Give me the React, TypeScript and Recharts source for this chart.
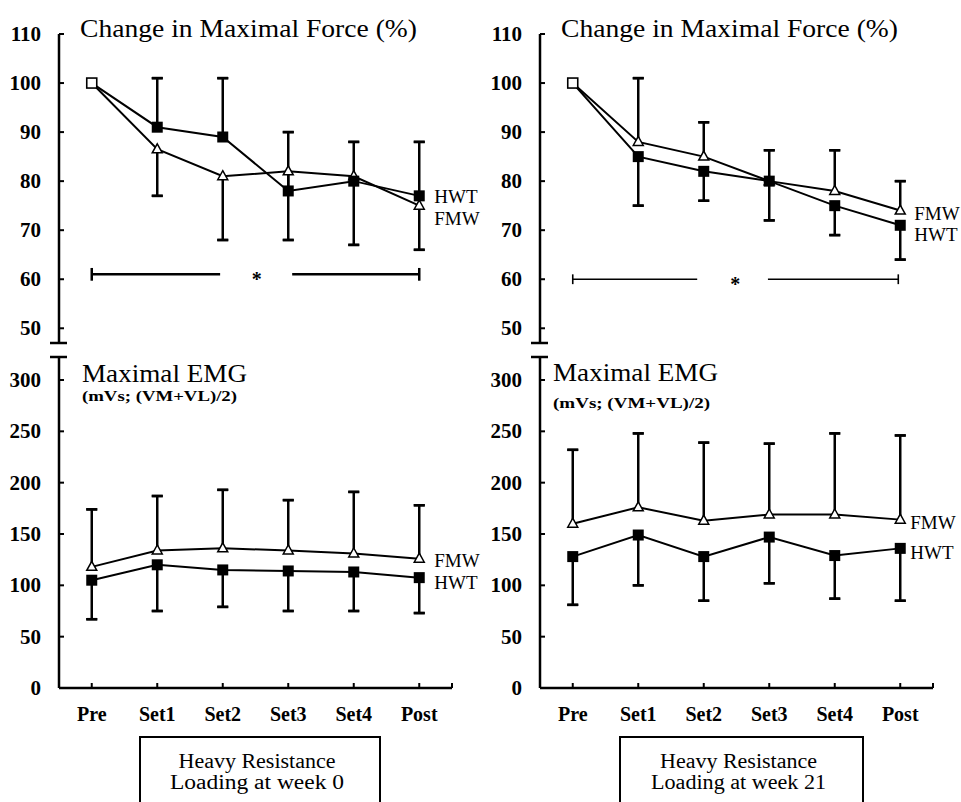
import React from 'react';
import { ComposedChart, Line, XAxis, YAxis, ErrorBar, ReferenceLine, ReferenceDot } from 'recharts';

const categories = ['Pre', 'Set1', 'Set2', 'Set3', 'Set4', 'Post'];

// maximal force, % of pre value
const forceHwtW0 = [100, 91, 89, 78, 80, 77];
const forceHwtW0Sd = [0, 10, 12, 12, 8, 11];
const forceFmwW0 = [100, 86.5, 81, 82, 81, 75];
const forceFmwW0Sd = [0, 9.5, 13, 14, 14, 9];

const forceHwtW21 = [100, 85, 82, 80, 75, 71];
const forceHwtW21Sd = [0, 10, 6, 8, 6, 7];
const forceFmwW21 = [100, 88, 85, 80, 78, 74];
const forceFmwW21Sd = [0, 13, 7, 6.3, 8.3, 6];

// maximal EMG, mVs ((VM+VL)/2)
const emgHwtW0 = [105, 120, 115, 114, 113, 107.5];
const emgHwtW0Sd = [38, 45, 36, 39, 38, 34.5];
const emgFmwW0 = [118, 134, 136, 134, 131, 126];
const emgFmwW0Sd = [56, 53, 57, 49, 60, 52];

const emgHwtW21 = [128, 149, 128, 147, 129, 136];
const emgHwtW21Sd = [47, 49, 43, 45, 42, 51];
const emgFmwW21 = [160, 176, 163, 169, 169, 164];
const emgFmwW21Sd = [72, 72, 76, 69, 79, 82];

const forceTicks = [50, 60, 70, 80, 90, 100, 110];
const emgTicks = [0, 50, 100, 150, 200, 250, 300];

const FORCE_MIN = 47; // broken axis end
const EMG_MAX = 322.4;

const FONT = "'Liberation Serif', 'Times New Roman', serif";

type Dir = 'up' | 'down';

// one row per time point; SD drawn on one side only
const buildRows = (
  hwt: number[], hwtSd: number[], hwtDir: Dir,
  fmw: number[], fmwSd: number[], fmwDir: Dir,
) =>
  categories.map((name, i) => {
    const hs = hwtDir === 'up' ? 1 : -1;
    const fs = fmwDir === 'up' ? 1 : -1;
    return {
      i,
      name,
      hwt: hwt[i],
      fmw: fmw[i],
      hwtErr: hwtSd[i] ? (hwtDir === 'up' ? [0, hwtSd[i]] : [hwtSd[i], 0]) : null,
      fmwErr: fmwSd[i] ? (fmwDir === 'up' ? [0, fmwSd[i]] : [fmwSd[i], 0]) : null,
      hwtEnd: hwt[i] + hs * hwtSd[i],
      fmwEnd: fmw[i] + fs * fmwSd[i],
      hwtCap: hwtSd[i] ? [0, 0] : null,
      fmwCap: fmwSd[i] ? [0, 0] : null,
    };
  });

const rowsForceW0 = buildRows(forceHwtW0, forceHwtW0Sd, 'up', forceFmwW0, forceFmwW0Sd, 'down');
const rowsForceW21 = buildRows(forceHwtW21, forceHwtW21Sd, 'down', forceFmwW21, forceFmwW21Sd, 'up');
const rowsEmgW0 = buildRows(emgHwtW0, emgHwtW0Sd, 'down', emgFmwW0, emgFmwW0Sd, 'up');
const rowsEmgW21 = buildRows(emgHwtW21, emgHwtW21Sd, 'down', emgFmwW21, emgFmwW21Sd, 'up');

const YTick = (props: any) => {
  const { x, y, payload, breakAt } = props;
  if (payload.value === breakAt) {
    return <line x1={x - 9} x2={x + 8} y1={y} y2={y} stroke="#000" strokeWidth={2.5} />;
  }
  return (
    <g>
      <line x1={x} x2={x + 5} y1={y} y2={y} stroke="#000" strokeWidth={2} />
      <text x={x - 18} y={y} dy={7} textAnchor="end" fontFamily={FONT} fontWeight="bold" fontSize={21} fill="#000">
        {payload.value}
      </text>
    </g>
  );
};

const XTick = (props: any) => {
  const { x, y, payload } = props;
  const label = categories[payload.value];
  return (
    <g>
      <line x1={x} x2={x} y1={y} y2={y - 5} stroke="#000" strokeWidth={2} />
      {label && (
        <text x={x} y={y + 33} textAnchor="middle" fontFamily={FONT} fontWeight="bold" fontSize={20} fill="#000">
          {label}
        </text>
      )}
    </g>
  );
};

const seriesLabel = (text: string, x: number, y: number) => (
  <text x={x} y={y} fontFamily={FONT} fontSize={19} fill="#000">{text}</text>
);

const squareDot = (openPre: boolean, name: string, dx: number, dy: number) => (p: any) => {
  const { cx, cy, index } = p;
  if (cx == null || cy == null) return <g key={`s${index}`} />;
  const last = index === categories.length - 1;
  if (openPre && index === 0) {
    return <rect key={`s${index}`} x={cx - 5} y={cy - 5} width={10} height={10} fill="#fff" stroke="#000" strokeWidth={1.6} />;
  }
  return (
    <g key={`s${index}`}>
      <rect x={cx - 5.5} y={cy - 5.5} width={11} height={11} fill="#000" />
      {last && seriesLabel(name, cx + dx, cy + dy)}
    </g>
  );
};

const triangleDot = (hidePre: boolean, name: string, dx: number, dy: number) => (p: any) => {
  const { cx, cy, index } = p;
  if (cx == null || cy == null || (hidePre && index === 0)) return <g key={`t${index}`} />;
  const last = index === categories.length - 1;
  return (
    <g key={`t${index}`}>
      <polygon
        points={`${cx},${cy - 5.5} ${cx + 5},${cy + 3.5} ${cx - 5},${cy + 3.5}`}
        fill="#fff"
        stroke="#000"
        strokeWidth={1.5}
      />
      {last && seriesLabel(name, cx + dx, cy + dy)}
    </g>
  );
};

type Sig = { y: number; from: number; to1: number; from2: number; to: number; star: number; cap: number; width: number };

type PanelProps = {
  rows: any[];
  left: number;
  top: number;
  width: number;
  height: number;
  margin: { top: number; right: number; bottom: number; left: number };
  domain: [number, number];
  ticks: number[];
  breakAt: number;
  showX: boolean;
  force: boolean;
  hwtLabel: [number, number];
  fmwLabel: [number, number];
  sig?: Sig;
};

const Panel = ({ rows, left, top, width, height, margin, domain, ticks, breakAt, showX, force, hwtLabel, fmwLabel, sig }: PanelProps) => (
  <div style={{ position: 'absolute', left, top }}>
    <ComposedChart width={width} height={height} data={rows} margin={margin}>
      <XAxis
        type="number"
        dataKey="i"
        domain={[-0.5, 5.5]}
        ticks={[0, 1, 2, 3, 4, 5, 5.5]}
        interval={0}
        hide={!showX}
        height={40}
        tickSize={0}
        tickMargin={0}
        tickLine={false}
        axisLine={{ stroke: '#000', strokeWidth: 2.5 }}
        tick={(p: any) => <XTick {...p} />}
      />
      <YAxis
        type="number"
        domain={domain}
        ticks={ticks}
        interval={0}
        width={59}
        tickSize={0}
        tickMargin={0}
        tickLine={false}
        axisLine={{ stroke: '#000', strokeWidth: 2.5 }}
        tick={(p: any) => <YTick {...p} breakAt={breakAt} />}
      />
      {sig && (
        <ReferenceLine segment={[{ x: sig.from, y: sig.y }, { x: sig.to1, y: sig.y }]} stroke="#000" strokeWidth={sig.width} />
      )}
      {sig && (
        <ReferenceLine segment={[{ x: sig.from2, y: sig.y }, { x: sig.to, y: sig.y }]} stroke="#000" strokeWidth={sig.width} />
      )}
      {sig && (
        <ReferenceLine segment={[{ x: sig.from, y: sig.y - sig.cap }, { x: sig.from, y: sig.y + sig.cap }]} stroke="#000" strokeWidth={sig.width} />
      )}
      {sig && (
        <ReferenceLine segment={[{ x: sig.to, y: sig.y - sig.cap }, { x: sig.to, y: sig.y + sig.cap }]} stroke="#000" strokeWidth={sig.width} />
      )}
      {sig && (
        <ReferenceDot
          x={sig.star}
          y={sig.y}
          r={1}
          shape={(p: any) => (
            <text x={p.cx} y={p.cy} dy={12} textAnchor="middle" fontFamily={FONT} fontWeight="bold" fontSize={20} fill="#000">
              *
            </text>
          )}
        />
      )}

      {/* caps at the far end of each SD bar */}
      <Line dataKey="fmwEnd" stroke="none" strokeWidth={0} dot={false} activeDot={false} isAnimationActive={false}>
        <ErrorBar dataKey="fmwCap" width={5.5} stroke="#000" strokeWidth={2.5} />
      </Line>
      <Line dataKey="hwtEnd" stroke="none" strokeWidth={0} dot={false} activeDot={false} isAnimationActive={false}>
        <ErrorBar dataKey="hwtCap" width={5.5} stroke="#000" strokeWidth={2.5} />
      </Line>

      <Line
        dataKey="fmw"
        stroke="#000"
        strokeWidth={2}
        dot={triangleDot(force, 'FMW', fmwLabel[0], fmwLabel[1])}
        activeDot={false}
        isAnimationActive={false}
      >
        <ErrorBar dataKey="fmwErr" width={0} stroke="#000" strokeWidth={2.5} />
      </Line>
      <Line
        dataKey="hwt"
        stroke="#000"
        strokeWidth={2}
        dot={squareDot(force, 'HWT', hwtLabel[0], hwtLabel[1])}
        activeDot={false}
        isAnimationActive={false}
      >
        <ErrorBar dataKey="hwtErr" width={0} stroke="#000" strokeWidth={2.5} />
      </Line>
    </ComposedChart>
  </div>
);

// left column charts are wider so the series names fit past the plot
const topMarginL = { top: 34, right: 48, bottom: 7, left: 0 };
const bottomMarginL = { top: 7, right: 48, bottom: 0, left: 0 };
const topMarginR = { top: 34, right: 28, bottom: 7, left: 0 };
const bottomMarginR = { top: 7, right: 28, bottom: 0, left: 0 };

const Box = ({ x, w, line2 }: { x: number; w: number; line2: string }) => (
  <g>
    <rect x={x} y={737} width={w} height={80} fill="none" stroke="#000" strokeWidth={2} />
    <text x={x + w / 2 - 3} y={768} textAnchor="middle" fontFamily={FONT} fontSize={20} textLength={157} lengthAdjust="spacingAndGlyphs">
      Heavy Resistance
    </text>
    <text x={x + w / 2 - 3} y={789} textAnchor="middle" fontFamily={FONT} fontSize={20} textLength={line2.length > 17 ? 175 : 174} lengthAdjust="spacingAndGlyphs">
      {line2}
    </text>
  </g>
);

export default function App() {
  return (
    <div style={{ position: 'absolute', left: 0, top: 0, width: 961, height: 802, background: '#fff', overflow: 'hidden' }}>
      <Panel
        rows={rowsForceW0}
        left={0}
        top={0}
        width={500}
        height={350}
        margin={topMarginL}
        domain={[FORCE_MIN, 110]}
        ticks={[FORCE_MIN, ...forceTicks]}
        breakAt={FORCE_MIN}
        showX={false}
        force
        hwtLabel={[15, 7]}
        fmwLabel={[15, 19]}
        sig={{ y: 61, from: 0, to1: 1.96, from2: 3.06, to: 5, star: 2.52, cap: 1.3, width: 2.5 }}
      />
      <Panel
        rows={rowsForceW21}
        left={481}
        top={0}
        width={480}
        height={350}
        margin={topMarginR}
        domain={[FORCE_MIN, 110]}
        ticks={[FORCE_MIN, ...forceTicks]}
        breakAt={FORCE_MIN}
        showX={false}
        force
        hwtLabel={[14, 16]}
        fmwLabel={[14, 9]}
        sig={{ y: 60, from: 0, to1: 1.9, from2: 2.98, to: 4.97, star: 2.48, cap: 1, width: 1.6 }}
      />
      <Panel
        rows={rowsEmgW0}
        left={0}
        top={350}
        width={500}
        height={378}
        margin={bottomMarginL}
        domain={[0, EMG_MAX]}
        ticks={[...emgTicks, EMG_MAX]}
        breakAt={EMG_MAX}
        showX
        force={false}
        hwtLabel={[15, 11]}
        fmwLabel={[15, 8]}
      />
      <Panel
        rows={rowsEmgW21}
        left={481}
        top={350}
        width={480}
        height={378}
        margin={bottomMarginR}
        domain={[0, EMG_MAX]}
        ticks={[...emgTicks, EMG_MAX]}
        breakAt={EMG_MAX}
        showX
        force={false}
        hwtLabel={[10, 11]}
        fmwLabel={[10, 9]}
      />

      <svg width={961} height={802} style={{ position: 'absolute', left: 0, top: 0, pointerEvents: 'none' }}>
        <text x={80} y={37} fontFamily={FONT} fontSize={26} textLength={337} lengthAdjust="spacingAndGlyphs">
          Change in Maximal Force (%)
        </text>
        <text x={561} y={37} fontFamily={FONT} fontSize={26} textLength={337} lengthAdjust="spacingAndGlyphs">
          Change in Maximal Force (%)
        </text>
        <text x={82} y={382} fontFamily={FONT} fontSize={26} textLength={165} lengthAdjust="spacingAndGlyphs">
          Maximal EMG
        </text>
        <text x={82} y={401} fontFamily={FONT} fontSize={14} fontWeight="bold" textLength={155} lengthAdjust="spacingAndGlyphs">
          (mVs; (VM+VL)/2)
        </text>
        <text x={553} y={381} fontFamily={FONT} fontSize={26} textLength={165} lengthAdjust="spacingAndGlyphs">
          Maximal EMG
        </text>
        <text x={553} y={408} fontFamily={FONT} fontSize={14} fontWeight="bold" textLength={157} lengthAdjust="spacingAndGlyphs">
          (mVs; (VM+VL)/2)
        </text>
        <Box x={140} w={240} line2="Loading at week 0" />
        <Box x={620} w={243} line2="Loading at week 21" />
      </svg>
    </div>
  );
}
